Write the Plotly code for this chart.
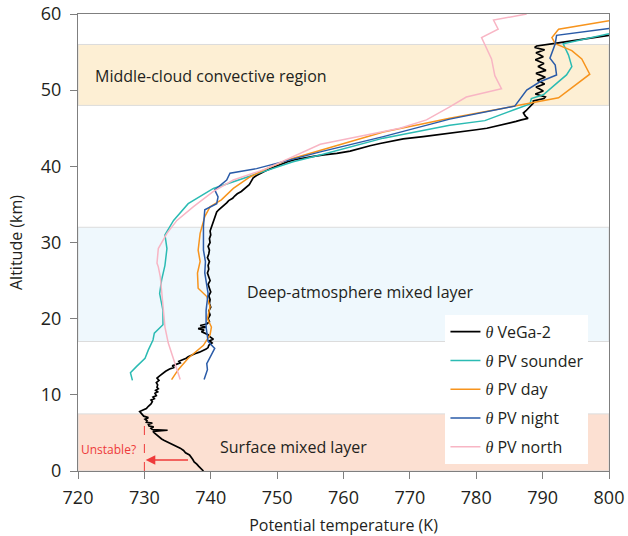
import plotly.graph_objects as go

# ---------------- data ----------------
vega_T = [738.9, 738.5, 738.2, 737.9, 737.5, 737.3, 737.0, 736.8, 736.2, 735.9,
          735.4, 734.9, 734.3, 733.9, 733.4, 733.0, 732.6, 732.3, 732.0, 731.7,
          731.5, 731.3, 733.5, 731.2, 731.0, 731.4, 730.7, 730.6, 731.2, 730.3,
          730.4, 730.1, 730.6, 729.9, 729.6, 729.3, 729.8, 730.3, 730.6, 731.0,
          731.2, 731.0, 731.5, 731.3, 731.8, 731.6, 732.0, 731.7, 732.1, 731.9,
          732.0, 731.8, 732.2, 731.9, 732.3, 732.7, 733.2, 733.8, 734.5, 734.2,
          735.0, 735.4, 735.2, 735.9, 736.3, 736.6, 737.0, 737.6, 738.3, 738.9,
          739.3, 739.6, 739.7, 740.2, 739.8, 740.4, 739.9, 739.6, 739.2, 738.6,
          739.0, 738.1, 739.3, 738.4, 739.4, 739.8, 739.6, 739.9, 739.7, 740.0,
          739.8, 739.9, 739.7, 740.0, 739.8, 739.6, 739.9, 739.7, 739.5, 739.7,
          739.6, 739.8, 739.5, 739.7, 739.8, 739.6, 739.9, 739.8, 740.0, 739.9,
          740.1, 740.3, 740.4, 740.6, 740.9, 741.2, 741.6, 742.1, 742.4, 742.7,
          743.3, 743.6, 744.0, 744.6, 745.0, 745.4, 745.8, 746.0, 746.2, 746.4,
          746.9, 747.5, 748.2, 749.0, 749.8, 750.6, 751.6, 752.8, 754.0, 755.5,
          757.0, 759.0, 761.0, 762.5, 764.0, 765.5, 767.0, 769.0, 772.0, 775.0,
          777.5, 780.0, 781.6, 783.2, 784.6, 786.0, 786.8, 787.8, 787.4, 787.1,
          787.5, 787.8, 788.3, 788.6, 788.6, 790.2, 790.4, 788.9, 790.1, 789.0,
          790.3, 789.2, 790.4, 789.0, 790.5, 789.3, 790.2, 788.9, 790.1, 789.0,
          790.3, 788.8, 789.1, 791.0, 791.6, 800.0]
vega_alt = [0.0, 0.3, 0.6, 0.9, 1.2, 1.5, 1.8, 2.1, 2.4, 2.7,
            3.0, 3.2, 3.4, 3.6, 3.8, 4.0, 4.2, 4.4, 4.6, 4.8,
            5.0, 5.2, 5.35, 5.45, 5.6, 5.8, 5.9, 6.1, 6.3, 6.4,
            6.6, 6.8, 7.0, 7.2, 7.5, 7.8, 8.0, 8.2, 8.5, 8.8,
            9.1, 9.3, 9.5, 9.7, 9.9, 10.2, 10.4, 10.6, 10.8, 11.0,
            11.3, 11.6, 11.9, 12.2, 12.5, 12.8, 13.1, 13.4, 13.6, 13.8,
            14.0, 14.2, 14.4, 14.6, 14.8, 15.0, 15.2, 15.4, 15.6, 15.8,
            16.0, 16.2, 16.5, 16.8, 17.1, 17.3, 17.6, 17.9, 18.1, 18.3,
            18.5, 18.7, 18.9, 19.1, 19.3, 19.6, 20.0, 20.5, 21.0, 21.5,
            22.0, 22.5, 23.0, 23.5, 24.0, 24.5, 25.0, 25.5, 26.0, 26.5,
            27.0, 27.5, 28.0, 28.5, 29.0, 29.5, 30.0, 30.5, 31.0, 31.5,
            32.0, 32.5, 33.0, 33.5, 34.0, 34.3, 34.6, 34.9, 35.2, 35.5,
            35.8, 36.1, 36.4, 36.7, 37.0, 37.3, 37.6, 37.9, 38.2, 38.5,
            38.8, 39.1, 39.4, 39.7, 40.0, 40.3, 40.6, 40.9, 41.1, 41.3,
            41.5, 41.7, 42.0, 42.3, 42.7, 43.0, 43.3, 43.6, 43.9, 44.2,
            44.5, 44.8, 45.0, 45.3, 45.6, 45.9, 46.1, 46.3, 46.6, 47.0,
            47.3, 47.6, 48.0, 48.3, 48.6, 48.9, 49.1, 49.5, 49.9, 50.4,
            50.8, 51.3, 51.7, 52.2, 52.6, 53.1, 53.5, 54.0, 54.4, 54.9,
            55.3, 55.6, 55.8, 56.0, 56.1, 57.2]

sounder_T = [728.2, 727.9, 728.8, 730.1, 730.6, 731.3, 731.5, 732.8, 732.8, 732.3,
             732.6, 733.1, 733.4, 733.1, 734.4, 736.6, 740.4, 743.4, 747.4, 752.4,
             756.5, 766.0, 776.0, 781.3, 785.6, 788.1, 788.3, 790.1, 792.1, 793.6,
             794.4, 793.9, 793.1, 800.0]
sounder_alt = [11.9, 12.9, 13.7, 14.8, 15.9, 17.2, 18.1, 19.2, 21.1, 23.3,
               25.1, 27.0, 29.2, 31.0, 32.9, 35.1, 37.1, 38.0, 39.1, 40.6,
               41.5, 43.7, 45.4, 46.0, 47.4, 48.2, 48.9, 49.4, 50.9, 52.0,
               53.1, 54.6, 56.1, 57.4]

day_T = [734.1, 735.1, 736.6, 738.1, 738.9, 739.9, 740.1, 739.5, 739.9, 739.4,
         738.1, 738.0, 738.4, 738.1, 738.4, 739.1, 739.9, 741.6, 743.4, 745.9,
         748.4, 751.4, 756.5, 766.0, 776.0, 788.1, 792.4, 797.1, 795.9, 794.4,
         791.9, 791.4, 792.4, 800.0]
day_alt = [12.0, 13.3, 14.8, 15.9, 16.5, 17.9, 18.9, 20.0, 21.6, 22.9,
           24.0, 26.0, 27.5, 29.0, 31.2, 33.4, 34.7, 35.6, 37.1, 38.6,
           39.7, 40.8, 42.1, 44.5, 46.3, 48.3, 49.0, 52.1, 54.1, 55.2,
           56.1, 56.9, 58.0, 59.1]

night_T = [739.0, 739.5, 739.4, 739.9, 740.6, 739.6, 739.3, 739.3, 739.6, 739.1,
           739.2, 738.9, 738.9, 739.1, 740.9, 741.1, 740.6, 742.4, 742.9, 746.9,
           752.4, 756.5, 766.0, 776.0, 785.8, 787.6, 789.6, 792.1, 791.9, 791.1,
           791.9, 792.1, 800.0]
night_alt = [12.0, 13.3, 14.1, 15.0, 16.1, 17.0, 18.9, 21.1, 23.3, 26.0,
             27.5, 29.0, 32.1, 34.3, 35.1, 36.0, 36.9, 38.2, 39.1, 39.7,
             41.0, 41.9, 43.9, 46.2, 47.9, 50.0, 51.1, 52.0, 53.3, 54.2,
             56.1, 57.2, 58.1]

north_T = [735.4, 734.4, 733.6, 733.1, 732.9, 732.6, 732.4, 732.1, 731.9, 732.1,
           733.4, 734.9, 737.4, 740.4, 743.4, 748.4, 753.4, 756.5, 768.5, 772.5,
           776.0, 778.5, 783.8, 782.8, 782.3, 780.8, 783.3, 782.6, 787.6]
north_alt = [12.0, 14.6, 16.8, 18.9, 21.1, 23.3, 25.5, 26.8, 27.3, 29.2,
             31.2, 32.9, 34.7, 36.7, 38.2, 39.7, 41.7, 42.9, 45.0, 46.1,
             47.8, 49.1, 50.2, 51.9, 54.1, 56.9, 58.0, 59.2, 60.0]

series_names = ["VeGa-2", "PV sounder", "PV day", "PV night", "PV north"]
series_colors = ["#000000", "#2BBBB3", "#F7941D", "#2A5BA8", "#F8B5C4"]

band_ranges = [(48, 56), (17, 32), (0, 7.5)]
band_colors = ["#FDEFD4", "#EFF8FD", "#FCE0D2"]
band_labels = ["Middle-cloud convective region", "Deep-atmosphere mixed layer", "Surface mixed layer"]

x_ticks = [720, 730, 740, 750, 760, 770, 780, 790, 800]
y_ticks = [0, 10, 20, 30, 40, 50, 60]

FONT = "Open Sans"
TXT = "#231F20"

fig = go.Figure()

# background bands
for (y0, y1), col in zip(band_ranges, band_colors):
    fig.add_shape(type="rect", xref="x", yref="y", x0=720, x1=800, y0=y0, y1=y1,
                  fillcolor=col, line=dict(color="#DCDCDC", width=1), layer="below")

theta = "<span style='font-family:\"Liberation Serif\";font-style:italic'>θ</span> "
data = [(vega_T, vega_alt), (sounder_T, sounder_alt), (day_T, day_alt),
        (night_T, night_alt), (north_T, north_alt)]
widths = [1.7, 1.5, 1.5, 1.5, 1.5]
for (tx, al), nm, col, w in zip(data, series_names, series_colors, widths):
    fig.add_trace(go.Scatter(x=tx, y=al, mode="lines", name=theta + nm,
                             legendgroup=nm,
                             line=dict(color=col, width=w)))

# band labels
fig.add_annotation(x=722.3, y=51.8, text=band_labels[0], showarrow=False,
                   xanchor="left", font=dict(size=16, color=TXT, family=FONT))
fig.add_annotation(x=762.5, y=23.5, text=band_labels[1], showarrow=False,
                   font=dict(size=16, color=TXT, family=FONT))
fig.add_annotation(x=752.4, y=3.2, text=band_labels[2], showarrow=False,
                   font=dict(size=16, color=TXT, family=FONT))

# unstable marker
fig.add_shape(type="line", xref="x", yref="y", x0=730, x1=730, y0=0, y1=7.0,
              line=dict(color="#EE3A3A", width=1, dash="dash"))
fig.add_annotation(x=730.2, y=1.45, ax=736.8, ay=1.45, axref="x", ayref="y",
                   xref="x", yref="y", text="", showarrow=True, arrowhead=2,
                   arrowsize=1.2, arrowwidth=1.6, arrowcolor="#EE3A3A")
fig.add_annotation(x=724.6, y=2.85, text="Unstable?", showarrow=False,
                   font=dict(size=12, color="#EE3A3A", family=FONT))

axis_common = dict(showgrid=False, zeroline=False, showline=True, linecolor="#7F7F7F",
                   linewidth=1.3, mirror=True, ticks="outside", ticklen=7,
                   tickcolor="#7F7F7F", tickwidth=1.3, automargin=False,
                   tickfont=dict(size=18, color=TXT, family=FONT))

fig.update_xaxes(range=[720, 800], tickvals=x_ticks, ticklabelstandoff=3,
                 title=dict(text="Potential temperature (K)", font=dict(size=16, color=TXT, family=FONT),
                            standoff=18),
                 **axis_common)
fig.update_yaxes(range=[0, 60], tickvals=y_ticks, ticklabelstandoff=5,
                 title=dict(text="Altitude (km)", font=dict(size=16, color=TXT, family=FONT),
                            standoff=14),
                 **axis_common)

fig.update_layout(
    width=628, height=536,
    margin=dict(l=78, r=19, t=14, b=65),
    plot_bgcolor="white", paper_bgcolor="white",
    showlegend=True,
    legend=dict(x=0.692, y=0.342, xanchor="left", yanchor="top",
                bgcolor="white", borderwidth=0,
                font=dict(size=16, color=TXT, family=FONT),
                tracegroupgap=5, itemwidth=30),
)

fig.write_html("out.html")
